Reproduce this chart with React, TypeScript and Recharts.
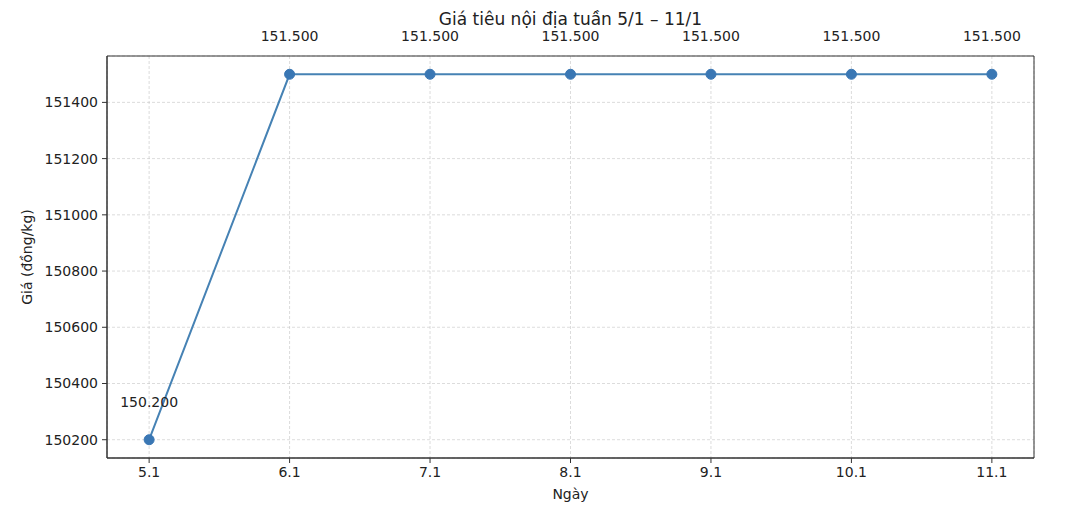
import { CartesianGrid, LabelList, Line, LineChart, ReferenceArea, XAxis, YAxis } from "recharts"

const days = ["5.1", "6.1", "7.1", "8.1", "9.1", "10.1", "11.1"]
const prices = [150200, 151500, 151500, 151500, 151500, 151500, 151500]
const yTicks = [150200, 150400, 150600, 150800, 151000, 151200, 151400]

const data = days.map((d, i) => ({ i, day: d, price: prices[i] }))

const font = "'DejaVu Sans', sans-serif"
const fmt = (v: number) => (v / 1000).toFixed(3)

const PriceLabel = (props: any) => {
  const { x, y, value } = props
  return (
    <text x={x} y={y - 38} textAnchor="middle" dominantBaseline="central" fontSize={14} fill="#222" fontFamily={font}>
      {fmt(value)}
    </text>
  )
}

export default function App() {
  return (
    <div style={{ position: "absolute", left: 0, top: 0, width: 1072, height: 510, background: "#fff", fontFamily: font }}>
      <div style={{ position: "absolute", left: 107, width: 927, top: 9, textAlign: "center", fontSize: 17, color: "#222" }}>
        Giá tiêu nội địa tuần 5/1 – 11/1
      </div>
      <div
        style={{
          position: "absolute",
          left: 27,
          top: 257,
          transform: "translate(-50%, -50%) rotate(-90deg)",
          fontSize: 14,
          color: "#222",
          whiteSpace: "nowrap",
        }}
      >
        Giá (đồng/kg)
      </div>
      <div style={{ position: "absolute", left: 107, width: 927, top: 486, textAlign: "center", fontSize: 14, color: "#222" }}>
        Ngày
      </div>
      <LineChart width={1072} height={510} data={data} margin={{ top: 56, right: 38, bottom: 22, left: 47 }}>
        <CartesianGrid stroke="#c4c4c4" strokeWidth={0.6} strokeDasharray="3 2" />
        <XAxis
          dataKey="i"
          type="number"
          domain={[-0.3, 6.3]}
          ticks={[0, 1, 2, 3, 4, 5, 6]}
          tickFormatter={(i: number) => days[i]}
          allowDataOverflow
          height={30}
          tickSize={5}
          tickMargin={4}
          stroke="#333"
          tick={{ fill: "#222", fontSize: 14, fontFamily: font }}
        />
        <YAxis
          type="number"
          domain={[150135, 151565]}
          ticks={yTicks}
          allowDataOverflow
          width={60}
          tickSize={5}
          tickMargin={4}
          stroke="#333"
          tick={{ fill: "#222", fontSize: 14, fontFamily: font }}
        />
        <ReferenceArea x1={-0.3} x2={6.3} y1={150135} y2={151565} fill="none" stroke="#333" strokeWidth={1} />
        <Line
          type="linear"
          dataKey="price"
          stroke="#4682b4"
          strokeWidth={2}
          dot={{ r: 5, fill: "#3a77b4", stroke: "#3a77b4", strokeWidth: 1 }}
          isAnimationActive={false}
        >
          <LabelList dataKey="price" content={PriceLabel} />
        </Line>
      </LineChart>
    </div>
  )
}
